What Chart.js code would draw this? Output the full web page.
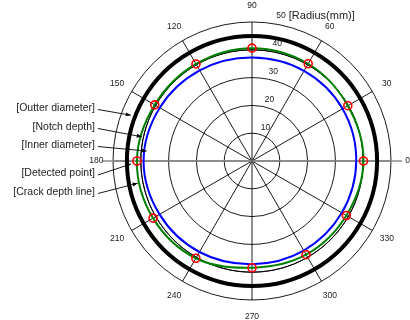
<!DOCTYPE html>
<html>
<head>
<meta charset="utf-8">
<script src="https://cdn.jsdelivr.net/npm/chart.js@4/dist/chart.umd.min.js"></script>
<style>
    html, body { margin: 0; padding: 0; background: #fff; }
</style>
</head>
<body>
<canvas id="chart-polar" width="410" height="320"></canvas>
<script>
// polar angles in degrees, counter-clockwise from 3 o'clock
const angles = [0, 30, 60, 90, 120, 150, 180, 210, 240, 270, 300, 330];
// radius (mm) per angle
const detectedPoints = [40.1, 39.8, 40.4, 40.6, 40.3, 40.4, 41.4, 41.1, 40.4, 38.4, 38.9, 39.2];
const outerDiameter = [45, 45, 45, 45, 45, 45, 45, 45, 45, 45, 45, 45];
const notchDepth = [40, 40, 40, 40, 40, 40, 40, 40, 40, 40, 40, 40];
const innerDiameter = [37.5, 37.6, 37.4, 37.2, 37.6, 38.3, 39.0, 38.4, 37.8, 37.1, 37.2, 37.3];
const axisLine = [54, null, null, null, null, null, 54, null, null, null, null, null];
const radiusTicks = [10, 20, 30, 40, 50];
const radiusTitle = '[Radius(mm)]';
const noteLabels = ['[Outter diameter]', '[Notch depth]', '[Inner diameter]', '[Detected point]', '[Crack depth line]'];
const noteTipAngles = [159.3, 167.6, 174.6, 181.4, 191];
const noteTipRadius = [46.6, 40.6, 38.1, 43.5, 41.9];

const FONT = "'Liberation Sans', Arial, sans-serif";

// radar goes clockwise from startAngle, the plot goes counter-clockwise
const clockwise = angles.map((a, i) => (angles.length - i) % angles.length);
const cw = arr => clockwise.map(i => arr[i]);

function polarXY(scale, angleDeg, value) {
    const d = scale.getDistanceFromCenterForValue(value);
    const a = angleDeg * Math.PI / 180;
    return { x: scale.xCenter + d * Math.cos(a), y: scale.yCenter - d * Math.sin(a) };
}

const polarText = {
    id: 'polarText',
    afterDraw(chart) {
        const ctx = chart.ctx;
        const scale = chart.scales.r;
        const cx = scale.xCenter, cy = scale.yCenter;
        ctx.save();
        ctx.fillStyle = '#222';

        // angle labels
        ctx.font = '8.5px ' + FONT;
        ctx.textAlign = 'center';
        ctx.textBaseline = 'middle';
        angles.forEach(a => {
            const p = polarXY(scale, a, scale.max * 1.12);
            ctx.fillText(String(a), p.x, p.y);
        });

        // radius labels, sitting just above each ring near 82 deg
        ctx.textAlign = 'left';
        let last = null;
        radiusTicks.forEach(v => {
            const d = scale.getDistanceFromCenterForValue(v);
            const x = cx + 0.139 * d + 5;
            const y = cy - d - 6;
            ctx.font = '8.5px ' + FONT;
            ctx.fillText(String(v), x, y);
            last = { x: x + ctx.measureText(String(v)).width, y: y };
        });
        ctx.font = '11px ' + FONT;
        ctx.fillText(radiusTitle, last.x + 3, last.y);

        // notes with arrows
        const noteY = [108, 127, 145, 173.5, 192];
        ctx.font = '10.5px ' + FONT;
        ctx.textAlign = 'right';
        noteLabels.forEach((label, i) => {
            const y = noteY[i];
            ctx.fillStyle = '#222';
            ctx.fillText(label, 95, y);
            const tail = { x: 98, y: y + 1.5 };
            const tip = polarXY(scale, noteTipAngles[i], noteTipRadius[i]);
            ctx.strokeStyle = '#000';
            ctx.lineWidth = 0.9;
            ctx.beginPath();
            ctx.moveTo(tail.x, tail.y);
            ctx.lineTo(tip.x, tip.y);
            ctx.stroke();
            const ang = Math.atan2(tip.y - tail.y, tip.x - tail.x);
            ctx.fillStyle = '#000';
            ctx.beginPath();
            ctx.moveTo(tip.x, tip.y);
            ctx.lineTo(tip.x - 5 * Math.cos(ang) + 2 * Math.sin(ang), tip.y - 5 * Math.sin(ang) - 2 * Math.cos(ang));
            ctx.lineTo(tip.x - 5 * Math.cos(ang) - 2 * Math.sin(ang), tip.y - 5 * Math.sin(ang) + 2 * Math.cos(ang));
            ctx.closePath();
            ctx.fill();
        });
        ctx.restore();
    }
};

const polarChart = new Chart(document.getElementById('chart-polar'), {
    type: 'radar',
    data: {
        labels: cw(angles).map(String),
        datasets: [
            { label: 'Detected point', data: cw(detectedPoints), showLine: false, pointRadius: 4, pointBorderWidth: 1.6, pointBorderColor: '#ff0000', pointBackgroundColor: 'rgba(0,0,0,0)' },
            { label: 'Crack depth line', data: cw(detectedPoints), borderColor: '#008000', borderWidth: 2, pointRadius: 0, tension: 0.35 },
            { label: 'Inner diameter', data: cw(innerDiameter), borderColor: '#0000ff', borderWidth: 2, pointRadius: 0, tension: 0.35 },
            { label: 'Notch depth', data: cw(notchDepth), borderColor: '#000', borderWidth: 1, pointRadius: 0, tension: 0.35 },
            { label: 'Outter diameter', data: cw(outerDiameter), borderColor: '#000', borderWidth: 4, pointRadius: 0, tension: 0.35 },
            { label: 'axis', data: cw(axisLine), borderColor: '#8c8c8c', borderWidth: 1.4, pointRadius: 0, spanGaps: true, clip: false },
        ]
    },
    options: {
        responsive: false,
        animation: false,
        layout: { padding: { left: 113, right: 18, top: 22, bottom: 20 } },
        elements: { line: { fill: false } },
        scales: {
            r: {
                startAngle: 90,
                min: 0,
                max: 50,
                ticks: { display: false, stepSize: 10 },
                pointLabels: { display: false },
                grid: { circular: true, color: '#000', lineWidth: 0.9 },
                angleLines: { color: '#000', lineWidth: 0.9 }
            }
        },
        plugins: {
            legend: { display: false },
            tooltip: { enabled: false }
        }
    },
    plugins: [polarText]
});
</script>
</body>
</html>
